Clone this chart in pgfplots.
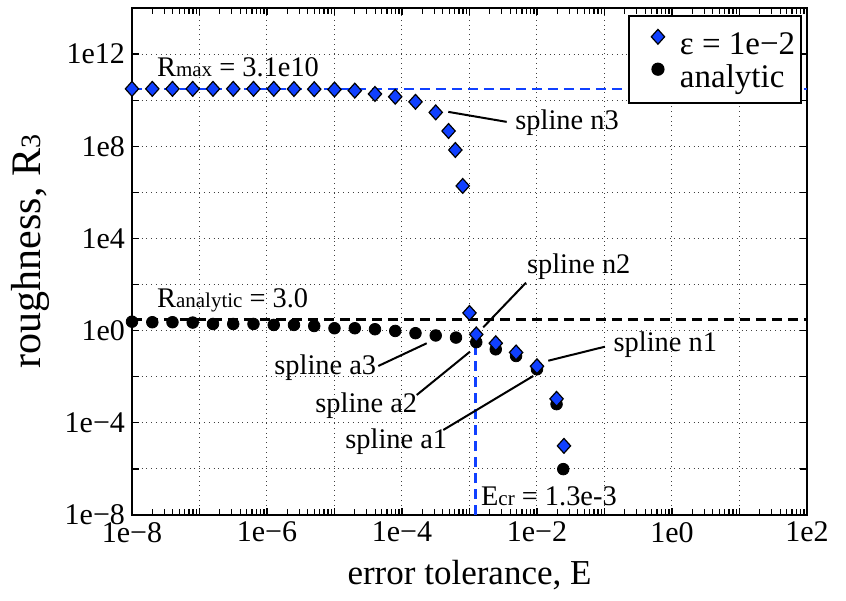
\documentclass[border=0pt]{standalone}
\usepackage{fontspec}
\setmainfont{Liberation Serif}
\usepackage{pgfplots}
\pgfplotsset{compat=1.18}
\definecolor{mblue}{RGB}{16,64,255}
\newcommand\tickfont{\fontsize{15}{18}\selectfont}
\newcommand\labfont{\fontsize{17.5}{21}\selectfont}
\newcommand\ylabfont{\fontsize{21}{25}\selectfont}
\newcommand\annfont{\fontsize{14.2}{17}\selectfont}
\newcommand\legfont{\fontsize{16.5}{19.5}\selectfont}
\newcommand\subfont{\fontsize{10.5}{12}\selectfont}
\newcommand\ylsub{\fontsize{14}{16}\selectfont}
\begin{document}
\begin{tikzpicture}
\begin{axis}[
  scale only axis, width=337.5pt, height=253.5pt,
  xmode=log, ymode=log,
  xmin=1e-8, xmax=1e2, ymin=1e-8, ymax=1e14,
  xtick={1e-8,1e-7,1e-6,1e-5,1e-4,1e-3,1e-2,1e-1,1,10,100},
  xticklabels={1e−8,,1e−6,,1e−4,,1e−2,,1e0,,1e2},
  ytick={1e-8,1e-6,1e-4,1e-2,1,1e2,1e4,1e6,1e8,1e10,1e12,1e14},
  yticklabels={1e−8,,1e−4,,1e0,,1e4,,1e8,,1e12,},
  minor xtick={}, minor ytick={},
  tick align=inside, major tick length=3.5pt,
  tick style={black, line width=0.6pt},
  xmajorgrids, ymajorgrids,
  grid style={dotted, black!75, line width=0.5pt},
  axis line style={line width=1pt},
  clip=false,
  xticklabel style={font=\tickfont},
  yticklabel style={font=\tickfont},
  xlabel={error tolerance, E},
  ylabel={roughness, R{\ylsub 3}},
  xlabel style={font=\labfont, at={(axis description cs:0.5,-0.118)}, anchor=center},
  ylabel style={font=\ylabfont, at={(axis description cs:-0.150,0.52)}, anchor=center},
  legend image code/.code={%
    \path[draw=none, fill=none] (0pt,0pt) rectangle (19pt,8pt);
    \draw[#1] plot coordinates {(11.5pt,4pt)};},
  legend style={at={(rel axis cs:0.9926,0.9862)}, anchor=north east,
    draw=black, line width=0.8pt, font=\legfont, row sep=2pt,
    inner xsep=3pt, inner ysep=6.5pt,
    nodes={inner sep=0pt},
    /tikz/every odd column/.append style={column sep=3.5pt},
    legend cell align=left},
  reverse legend,
]
% reference lines
\addplot[mblue, line width=1.3pt, dash pattern=on 5pt off 3pt, forget plot]
  coordinates {(1e-8,3.1e10) (1e2,3.1e10)};
\addplot[black, line width=1.3pt, dash pattern=on 5pt off 3pt, forget plot]
  coordinates {(1e-8,3.0) (1e2,3.0)};
\addplot[mblue, line width=1.3pt, dash pattern=on 5pt off 3pt, forget plot]
  coordinates {(1.22e-3,1e-8) (1.22e-3,0.3)};
% analytic
\addplot[only marks, mark=*, mark size=2.9pt, mark options={fill=black, draw=black}]
  coordinates {
  (1e-8,2.45) (2.0e-8,2.32) (3.98e-8,2.32) (7.94e-8,2.24)
  (1.585e-7,1.95) (3.16e-7,1.95) (6.31e-7,1.95) (1.26e-6,1.77)
  (2.51e-6,1.77) (5.01e-6,1.59) (1e-5,1.27) (2.0e-5,1.27)
  (3.98e-5,1.15) (7.94e-5,0.97) (1.585e-4,0.776) (3.16e-4,0.617)
  (6.31e-4,0.50) (1.26e-3,0.316) (2.45e-3,0.155) (4.9e-3,0.0794)
  (1.0e-2,0.0211) (1.95e-2,6.46e-4) (2.45e-2,9.8e-7)
  };
\addlegendentry{analytic}
% eps = 1e-2
\addplot[only marks, mark=diamond*, mark size=3.7pt,
  mark options={fill=mblue, draw=black, line width=0.6pt, xscale=1.2}]
  coordinates {
  (1e-8,3.1e10) (2.0e-8,3.1e10) (3.98e-8,3.1e10) (7.94e-8,3.1e10)
  (1.585e-7,3.1e10) (3.16e-7,3.1e10) (6.31e-7,3.1e10) (1.26e-6,3.1e10)
  (2.51e-6,3.05e10) (5.01e-6,3.0e10) (1e-5,2.9e10) (2.0e-5,2.6e10)
  (3.98e-5,1.86e10) (7.94e-5,1.41e10) (1.585e-4,8.5e9) (3.16e-4,2.95e9)
  (4.9e-4,4.6e8) (6.17e-4,6.9e7) (7.94e-4,1.9e6)
  (1.0e-3,5.86) (1.26e-3,0.684) (2.45e-3,0.284) (4.9e-3,0.113)
  (1.0e-2,0.0285) (1.95e-2,1.1e-3) (2.51e-2,1.0e-5)
  };
\addlegendentry{ε = 1e−2}
% annotations
\node[anchor=base west, inner sep=0, font=\annfont] at (rel axis cs:0.0366,0.8645)
  {R{\subfont max} = 3.1e10};
\node[anchor=base west, inner sep=0, font=\annfont] at (rel axis cs:0.0366,0.4097)
  {R{\subfont analytic} = 3.0};
\node[anchor=base west, inner sep=0, font=\annfont] at (rel axis cs:0.5674,0.7594) {spline n3};
\draw[line width=1pt] (rel axis cs:0.4686,0.7951) -- (rel axis cs:0.5551,0.7754);
\node[anchor=base west, inner sep=0, font=\annfont] at (rel axis cs:0.5847,0.4767) {spline n2};
\draw[line width=1pt] (rel axis cs:0.5837,0.4582) -- (rel axis cs:0.5204,0.3702);
\node[anchor=base west, inner sep=0, font=\annfont] at (rel axis cs:0.7130,0.3221) {spline n1};
\draw[line width=1pt] (rel axis cs:0.7007,0.3320) -- (rel axis cs:0.6167,0.3043);
\node[anchor=base west, inner sep=0, font=\annfont] at (rel axis cs:0.2104,0.2781) {spline a3};
\draw[line width=1pt] (rel axis cs:0.3649,0.2939) -- (rel axis cs:0.4366,0.3387);
\node[anchor=base west, inner sep=0, font=\annfont] at (rel axis cs:0.2711,0.2018) {spline a2};
\draw[line width=1pt] (rel axis cs:0.4218,0.2367) -- (rel axis cs:0.5007,0.3221);
\node[anchor=base west, inner sep=0, font=\annfont] at (rel axis cs:0.3156,0.1316) {spline a1};
\draw[line width=1pt] (rel axis cs:0.4612,0.1677) -- (rel axis cs:0.5945,0.2742);
\node[anchor=base west, inner sep=0, font=\annfont] at (rel axis cs:0.5166,0.0178)
  {E{\subfont cr} = 1.3e-3};
\end{axis}
\pgfresetboundingbox
\useasboundingbox (-66pt,-42.5pt) rectangle (357pt,257.5pt);
\end{tikzpicture}
\end{document}
